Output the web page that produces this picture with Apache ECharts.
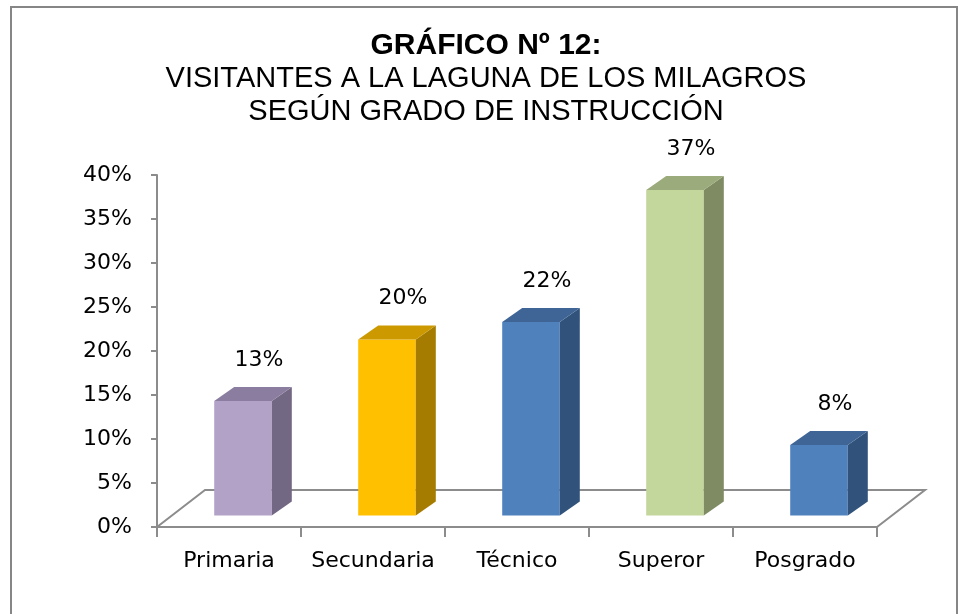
<!DOCTYPE html>
<html>
<head>
<meta charset="utf-8">
<script src="https://cdn.jsdelivr.net/npm/echarts@6/dist/echarts.min.js"></script>
<style>
  html, body { margin: 0; padding: 0; background: #fff; }
  #chart { width: 961px; height: 614px; }
</style>
</head>
<body>
<div id="chart"></div>
<script>
var categories = ['Primaria', 'Secundaria', 'Técnico', 'Superor', 'Posgrado'];
var values = [0.13, 0.20, 0.22, 0.37, 0.08];
var labels = ['13%', '20%', '22%', '37%', '8%'];
var frontColors = ['#B3A2C7', '#FFC000', '#4F81BD', '#C3D69B', '#4F81BD'];
var topColors = ['#8B7DA0', '#CC9A00', '#3E6595', '#9CAB7B', '#3E6595'];
var sideColors = ['#736883', '#A67C00', '#31537B', '#7E8B63', '#31537B'];

// 3D look: floor depth and bar depth in pixels
var floorDx = 48, floorDy = -37;
var barDx = 20, barDy = -14;
var gridColor = '#8C8C8C';
var font = 'DejaVu Sans';

var chart = echarts.init(document.getElementById('chart'));

function renderFloor(params, api) {
    var cs = params.coordSys;
    var x0 = cs.x, y0 = cs.y + cs.height, x1 = cs.x + cs.width;
    return {
        type: 'polyline',
        shape: {
            points: [[x0, y0], [x0 + floorDx, y0 + floorDy], [x1 + floorDx, y0 + floorDy], [x1, y0]]
        },
        style: { stroke: gridColor, lineWidth: 2, fill: null },
        silent: true
    };
}

function renderBar(params, api) {
    var i = params.dataIndex;
    var base = api.coord([api.value(0), 0]);
    var top = api.coord([api.value(0), api.value(1)]);
    var band = api.size([1, 0])[0];
    var w = band * 0.4;
    var sx = (floorDx - barDx) / 2, sy = (floorDy - barDy) / 2;

    var l = base[0] - w / 2 + sx;
    var r = l + w;
    var b = base[1] + sy;
    var t = top[1] + sy;

    return {
        type: 'group',
        children: [{
            type: 'polygon',
            shape: { points: [[l, b], [r, b], [r, t], [l, t]] },
            style: { fill: frontColors[i] }
        }, {
            type: 'polygon',
            shape: { points: [[r, b], [r + barDx, b + barDy], [r + barDx, t + barDy], [r, t]] },
            style: { fill: sideColors[i] }
        }, {
            type: 'polygon',
            shape: { points: [[l, t], [r, t], [r + barDx, t + barDy], [l + barDx, t + barDy]] },
            style: { fill: topColors[i] }
        }, {
            type: 'text',
            style: {
                text: labels[i],
                x: l + (w + barDx) / 2 + 6,
                y: t + barDy - 27,
                align: 'center',
                verticalAlign: 'middle',
                fontFamily: font,
                fontSize: 22,
                fill: '#000'
            }
        }]
    };
}

var option = {
    animation: false,
    title: {
        text: 'GRÁFICO Nº 12:',
        subtext: 'VISITANTES A LA LAGUNA DE LOS MILAGROS\nSEGÚN GRADO DE INSTRUCCIÓN',
        left: 486,
        top: 29,
        textAlign: 'center',
        itemGap: 0,
        padding: 0,
        textStyle: {
            fontFamily: 'Liberation Sans',
            fontWeight: 'bold',
            fontSize: 30,
            lineHeight: 33,
            color: '#000'
        },
        subtextStyle: {
            fontFamily: 'Liberation Sans',
            fontSize: 29,
            lineHeight: 33,
            color: '#000'
        }
    },
    graphic: [{
        type: 'rect',
        shape: { x: 11, y: 7, width: 946, height: 620 },
        style: { fill: null, stroke: '#868686', lineWidth: 2 },
        silent: true
    }],
    grid: { left: 157, right: 84, top: 175, bottom: 87 },
    xAxis: {
        type: 'category',
        data: categories,
        axisLine: { lineStyle: { color: gridColor, width: 2 } },
        axisTick: { show: true, length: 10, interval: 0, lineStyle: { color: gridColor, width: 2 } },
        axisLabel: { color: '#000', fontFamily: font, fontSize: 22, margin: 23, interval: 0 },
        splitLine: { show: false }
    },
    yAxis: {
        type: 'value',
        min: 0,
        max: 0.4,
        interval: 0.05,
        axisLine: { show: true, lineStyle: { color: gridColor, width: 2 } },
        axisTick: { show: true, length: 6, lineStyle: { color: gridColor, width: 2 } },
        axisLabel: {
            color: '#000',
            fontFamily: font,
            fontSize: 22,
            margin: 25,
            formatter: function(v) { return Math.round(v * 100) + '%'; }
        },
        splitLine: { show: false }
    },
    series: [{
        type: 'custom',
        renderItem: renderFloor,
        data: [[0, 0]],
        silent: true,
        z: 1
    }, {
        type: 'custom',
        renderItem: renderBar,
        data: values.map(function(v, i) { return [i, v]; }),
        encode: { x: 0, y: 1 },
        z: 2
    }]
};

chart.setOption(option);
</script>
</body>
</html>
